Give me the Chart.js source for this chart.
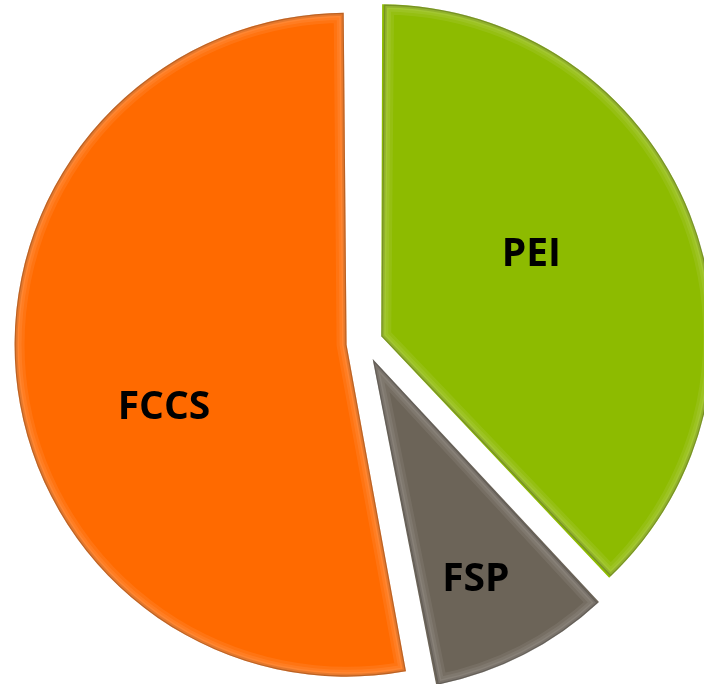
<!DOCTYPE html>
<html>
<head>
<meta charset="utf-8">
<script src="https://cdn.jsdelivr.net/npm/chart.js@4.4.1/dist/chart.umd.min.js"></script>
<style>
  html, body { margin: 0; padding: 0; background: #fff; }
</style>
</head>
<body>
<canvas id="myChart" width="704" height="684"></canvas>
<script>
const categories = ['PEI', 'FSP', 'FCCS'];
const shares = [38, 9, 53];
const sliceColors = ['#8DBB00', '#6C6458', '#FF6A00'];

// where each label sits inside its slice: [part of the angle, part of the radius]
const labelSpots = [[0.444, 0.518], [0.55, 0.725], [0.433, 0.579]];

const pieRadius = 332;
const explode = 72; // chart.js moves a slice by offset / 4

// chart.js also makes exploded slices a bit larger, undo that so they keep one radius
const evenRadius = {
  id: 'evenRadius',
  afterDatasetsUpdate(chart) {
    chart.getDatasetMeta(0).data.forEach(function (arc) {
      const fix = 1 - Math.sin(Math.min(Math.PI, arc.circumference));
      arc.outerRadius -= (explode / 4) * fix;
    });
  }
};

function slicePath(ctx, arc) {
  const shift = explode / 4;
  const mid = (arc.startAngle + arc.endAngle) / 2;
  const cx = arc.x + Math.cos(mid) * shift;
  const cy = arc.y + Math.sin(mid) * shift;
  const trim = shift / (2 * Math.PI * pieRadius);
  ctx.beginPath();
  ctx.moveTo(cx, cy);
  ctx.arc(cx, cy, pieRadius, arc.startAngle + trim, arc.endAngle - trim);
  ctx.closePath();
  return { cx: cx, cy: cy };
}

// soft bevel round each slice, and the labels
const bevelAndLabels = {
  id: 'bevelAndLabels',
  afterDatasetsDraw(chart) {
    const ctx = chart.ctx;
    const arcs = chart.getDatasetMeta(0).data;
    arcs.forEach(function (arc) {
      ctx.save();
      slicePath(ctx, arc);
      ctx.clip();
      ctx.lineJoin = 'round';
      [20, 14, 9].forEach(function (w) {
        ctx.strokeStyle = 'rgba(255,255,255,0.07)';
        ctx.lineWidth = w;
        ctx.stroke();
      });
      ctx.strokeStyle = 'rgba(0,0,0,0.10)';
      ctx.lineWidth = 6;
      ctx.stroke();
      ctx.strokeStyle = 'rgba(0,0,0,0.18)';
      ctx.lineWidth = 2.5;
      ctx.stroke();
      ctx.restore();
    });

    ctx.save();
    ctx.font = 'bold 39px "Open Sans"';
    ctx.fillStyle = '#000';
    ctx.textAlign = 'center';
    ctx.textBaseline = 'alphabetic';
    arcs.forEach(function (arc, i) {
      const c = slicePath(ctx, arc);
      const a = arc.startAngle + labelSpots[i][0] * (arc.endAngle - arc.startAngle);
      const r = labelSpots[i][1] * pieRadius;
      ctx.fillText(categories[i], c.cx + Math.cos(a) * r, c.cy + Math.sin(a) * r + 14);
    });
    ctx.restore();
  }
};

const ctx = document.getElementById('myChart');
new Chart(ctx, {
  type: 'pie',
  data: {
    labels: categories,
    datasets: [{
      data: shares,
      backgroundColor: sliceColors,
      borderWidth: 0,
      offset: explode
    }]
  },
  options: {
    responsive: false,
    animation: false,
    events: [],
    radius: pieRadius,
    layout: { padding: { left: 25, top: 2 } },
    plugins: {
      legend: { display: false },
      tooltip: { enabled: false }
    }
  },
  plugins: [evenRadius, bevelAndLabels]
});
</script>
</body>
</html>
